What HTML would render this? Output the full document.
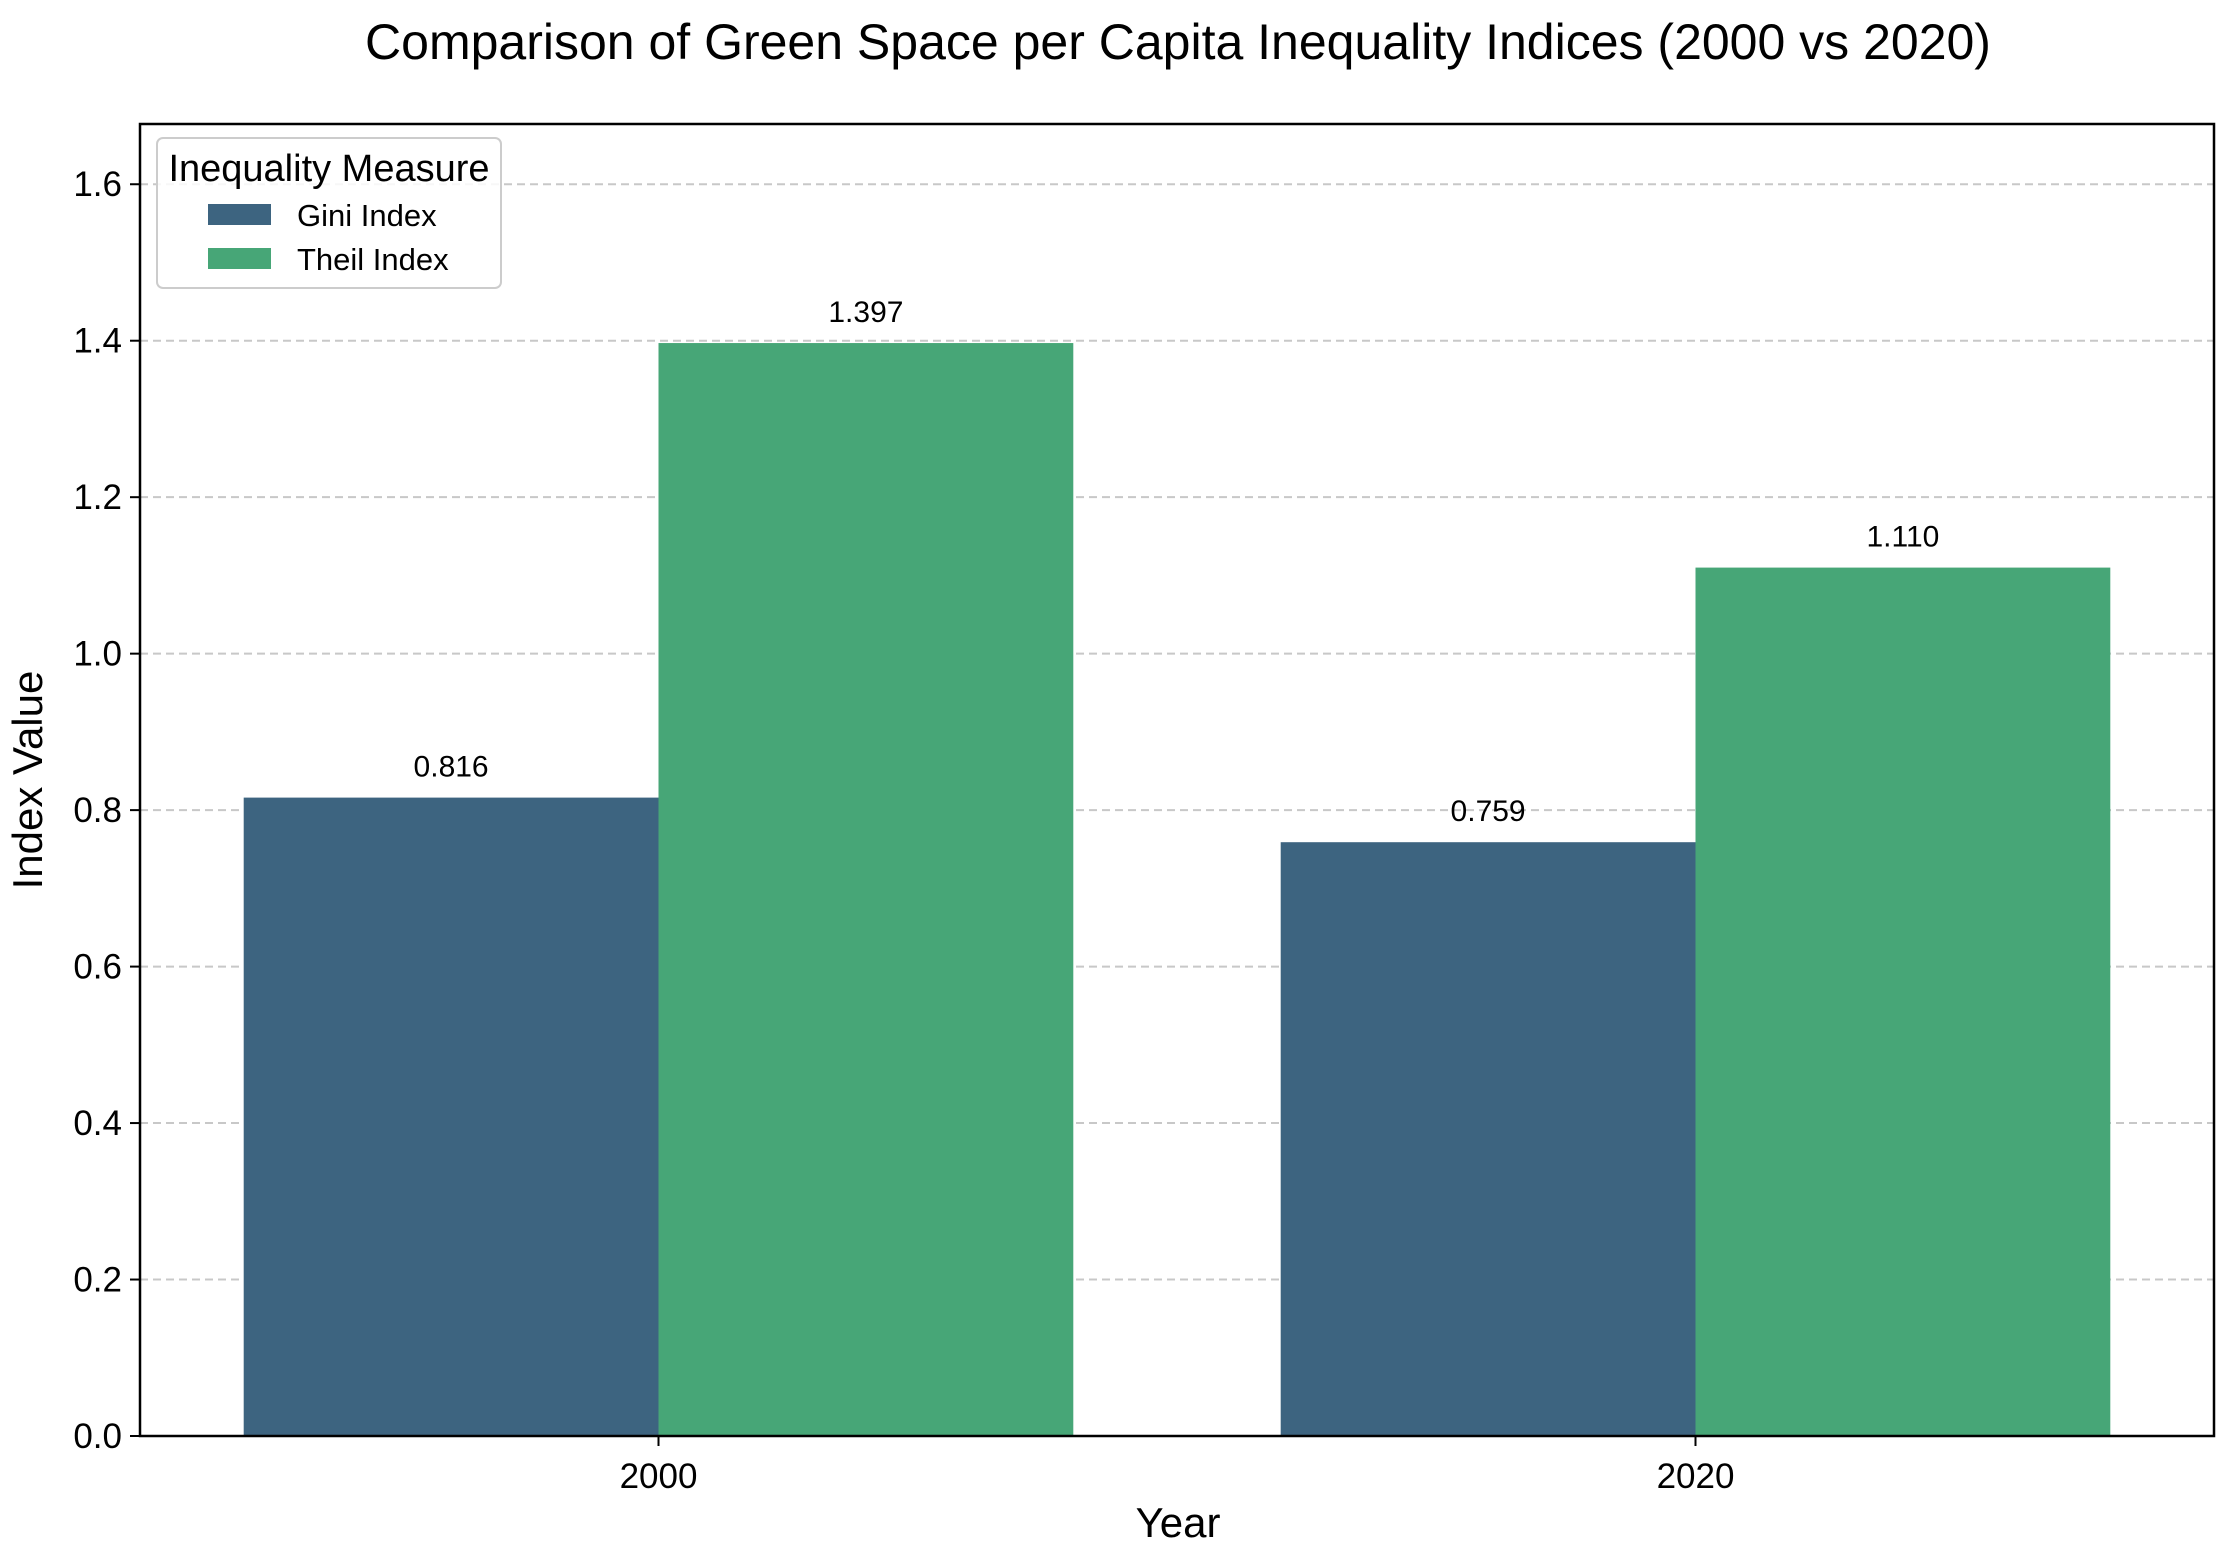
<!DOCTYPE html>
<html><head><meta charset="utf-8"><style>body{margin:0;background:#fff}svg{display:block;font-family:"Liberation Sans",Arial,sans-serif}</style></head>
<body>
<svg id="chart" width="2240" height="1559">
<text x="1178" y="59" font-size="50" text-anchor="middle">Comparison of Green Space per Capita Inequality Indices (2000 vs 2020)</text>
<g id="grid"></g><g id="bars"></g><g id="axes"></g>
<text transform="translate(42,780) rotate(-90)" font-size="42" text-anchor="middle">Index Value</text>
<text x="1178" y="1537" font-size="42" text-anchor="middle">Year</text>
<g>
<rect x="157" y="138" width="344" height="150" rx="6" fill="#fff" fill-opacity="0.85" stroke="#ccc" stroke-width="2"/>
<text x="329" y="181" font-size="38" text-anchor="middle">Inequality Measure</text>
<rect x="208" y="204" width="63" height="21" fill="#3d6480"/>
<text x="297" y="226" font-size="31">Gini Index</text>
<rect x="208" y="248" width="63" height="21" fill="#47a677"/>
<text x="297" y="270" font-size="31">Theil Index</text>
</g>
</svg>
<script>
const categories=["2000","2020"];
const giniValues=[0.816,0.759];
const theilValues=[1.397,1.110];
const yTicks=[0,0.2,0.4,0.6,0.8,1.0,1.2,1.4,1.6];
const NS="http://www.w3.org/2000/svg";
const L=140,R=2214,T=124,B=1436,yMax=1.677;
const xs=i=>L+(i+0.5)/2*(R-L);
const ys=v=>B-v/yMax*(B-T);
const bw=(R-L)/2*0.4;
function mk(tag,attrs,parent){const e=document.createElementNS(NS,tag);for(const k in attrs)e.setAttribute(k,attrs[k]);document.getElementById(parent).appendChild(e);return e;}
yTicks.forEach(t=>{
 const y=ys(t);
 const g=mk('line',{x1:L,x2:R,y1:y,y2:y,stroke:'#c8c8c8','stroke-width':2,'stroke-dasharray':'8,5'},'grid');
 
 
 const tk=mk('line',{x1:L-10,x2:L,y1:y,y2:y,stroke:'#000','stroke-width':2},'axes');
 
 
 const tx=mk('text',{x:L-18,y:y+12,'font-size':35,'text-anchor':'end'},'axes');
 tx.textContent=t.toFixed(1);
 
 
});
const series=[{vals:giniValues,color:'#3d6480',off:-1,name:'gini'},{vals:theilValues,color:'#47a677',off:0,name:'theil'}];
series.forEach(s=>{
 s.vals.forEach((v,i)=>{
  const x=xs(i)+s.off*bw;
  const r=mk('rect',{x:x,y:ys(v),width:bw,height:B-ys(v),fill:s.color},'bars');
  
  
  const t=mk('text',{x:x+bw/2,y:ys(v)-21,'font-size':30,'text-anchor':'middle'},'bars');
  t.textContent=v.toFixed(3);
  
  
 });
});
categories.forEach((c,i)=>{
 const x=xs(i);
 const tk=mk('line',{x1:x,x2:x,y1:B,y2:B+10,stroke:'#000','stroke-width':2},'axes');
 
 
 const t=mk('text',{x:x,y:B+52,'font-size':35,'text-anchor':'middle'},'axes');
 t.textContent=c;
 
 
});
const f=mk('rect',{x:L,y:T,width:R-L,height:B-T,fill:'none',stroke:'#000','stroke-width':2.5},'axes');


</script>
</body></html>
